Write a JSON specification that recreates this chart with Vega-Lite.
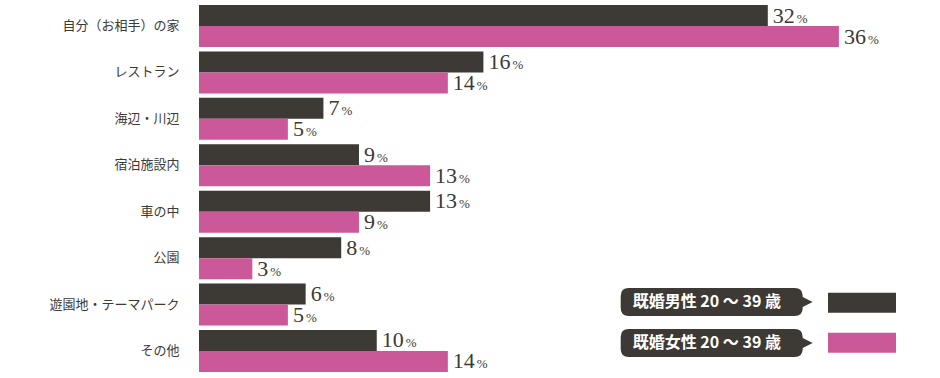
{
  "$schema": "https://vega.github.io/schema/vega-lite/v6.json",
  "autosize": "none",
  "width": 711,
  "height": 367,
  "padding": {"left": 199, "top": 5, "right": 30, "bottom": 6},
  "background": "white",
  "config": {"view": {"stroke": null}},
  "data": {
    "values": [
      {"category": "自分（お相手）の家", "series": "既婚男性 20 ～ 39 歳", "value": 32},
      {"category": "自分（お相手）の家", "series": "既婚女性 20 ～ 39 歳", "value": 36},
      {"category": "レストラン", "series": "既婚男性 20 ～ 39 歳", "value": 16},
      {"category": "レストラン", "series": "既婚女性 20 ～ 39 歳", "value": 14},
      {"category": "海辺・川辺", "series": "既婚男性 20 ～ 39 歳", "value": 7},
      {"category": "海辺・川辺", "series": "既婚女性 20 ～ 39 歳", "value": 5},
      {"category": "宿泊施設内", "series": "既婚男性 20 ～ 39 歳", "value": 9},
      {"category": "宿泊施設内", "series": "既婚女性 20 ～ 39 歳", "value": 13},
      {"category": "車の中", "series": "既婚男性 20 ～ 39 歳", "value": 13},
      {"category": "車の中", "series": "既婚女性 20 ～ 39 歳", "value": 9},
      {"category": "公園", "series": "既婚男性 20 ～ 39 歳", "value": 8},
      {"category": "公園", "series": "既婚女性 20 ～ 39 歳", "value": 3},
      {"category": "遊園地・テーマパーク", "series": "既婚男性 20 ～ 39 歳", "value": 6},
      {"category": "遊園地・テーマパーク", "series": "既婚女性 20 ～ 39 歳", "value": 5},
      {"category": "その他", "series": "既婚男性 20 ～ 39 歳", "value": 10},
      {"category": "その他", "series": "既婚女性 20 ～ 39 歳", "value": 14}
    ]
  },
  "encoding": {
    "y": {
      "field": "category",
      "type": "nominal",
      "sort": null,
      "scale": {"paddingInner": 0.095, "paddingOuter": 0},
      "axis": {
        "title": null,
        "ticks": false,
        "tickSize": 0,
        "domain": false,
        "labelPadding": 20,
        "labelFont": "Noto Sans CJK JP",
        "labelFontSize": 13,
        "labelColor": "#3d3935",
        "labelLimit": 300
      }
    },
    "yOffset": {
      "field": "series",
      "type": "nominal",
      "sort": ["既婚男性 20 ～ 39 歳", "既婚女性 20 ～ 39 歳"]
    },
    "x": {
      "field": "value",
      "type": "quantitative",
      "scale": {"domain": [0, 40], "nice": false},
      "axis": null
    }
  },
  "layer": [
    {
      "mark": {"type": "bar"},
      "encoding": {
        "color": {
          "field": "series",
          "type": "nominal",
          "scale": {
            "domain": ["既婚男性 20 ～ 39 歳", "既婚女性 20 ～ 39 歳"],
            "range": ["#3d3935", "#cb5899"]
          },
          "legend": {
            "orient": "none",
            "legendX": 653,
            "legendY": 287.7,
            "title": null,
            "symbolType": "M-3.4,-1H3.4V1H-3.4Z",
            "symbolSize": 400,
            "symbolStrokeWidth": 0,
            "labelExpr": "''",
            "rowPadding": 20,
            "padding": 0
          }
        }
      }
    },
    {
      "mark": {
        "type": "text",
        "align": "left",
        "baseline": "alphabetic",
        "dx": 5,
        "dy": 7,
        "font": "Liberation Serif",
        "fontSize": 22,
        "color": "#3d3935"
      },
      "encoding": {"text": {"field": "value", "type": "quantitative"}}
    },
    {
      "transform": [{"filter": "datum.value < 10"}],
      "mark": {
        "type": "text",
        "text": "%",
        "align": "left",
        "baseline": "alphabetic",
        "dx": 18,
        "dy": 7,
        "font": "Liberation Serif",
        "fontSize": 13,
        "color": "#3d3935"
      },
      "encoding": {}
    },
    {
      "transform": [{"filter": "datum.value >= 10"}],
      "mark": {
        "type": "text",
        "text": "%",
        "align": "left",
        "baseline": "alphabetic",
        "dx": 29,
        "dy": 7,
        "font": "Liberation Serif",
        "fontSize": 13,
        "color": "#3d3935"
      },
      "encoding": {}
    },
    {
      "mark": {"type": "point", "filled": true, "opacity": 0, "color": "#3d3935"},
      "encoding": {
        "shape": {
          "field": "series",
          "type": "nominal",
          "sort": ["既婚男性 20 ～ 39 歳", "既婚女性 20 ～ 39 歳"],
          "scale": {
            "range": [
              "M-5.93,-1H5.93Q6.5,-1 6.5,-0.43V-0.36L7.21,0L6.5,0.36V0.43Q6.5,1 5.93,1H-5.93Q-6.5,1 -6.5,0.43V-0.43Q-6.5,-1 -5.93,-1Z",
              "M-5.93,-1H5.93Q6.5,-1 6.5,-0.43V-0.36L7.21,0L6.5,0.36V0.43Q6.5,1 5.93,1H-5.93Q-6.5,1 -6.5,0.43V-0.43Q-6.5,-1 -5.93,-1Z"
            ]
          },
          "legend": {
            "orient": "none",
            "legendX": 498.7,
            "legendY": 283,
            "title": null,
            "symbolSize": 784,
            "symbolFillColor": "#3d3935",
            "symbolStrokeWidth": 0,
            "symbolOpacity": 1,
            "labelColor": "white",
            "labelFont": "Noto Sans CJK JP",
            "labelFontWeight": "bold",
            "labelFontSize": 16,
            "labelOffset": -93,
            "rowPadding": 13,
            "padding": 0
          }
        }
      }
    }
  ]
}
